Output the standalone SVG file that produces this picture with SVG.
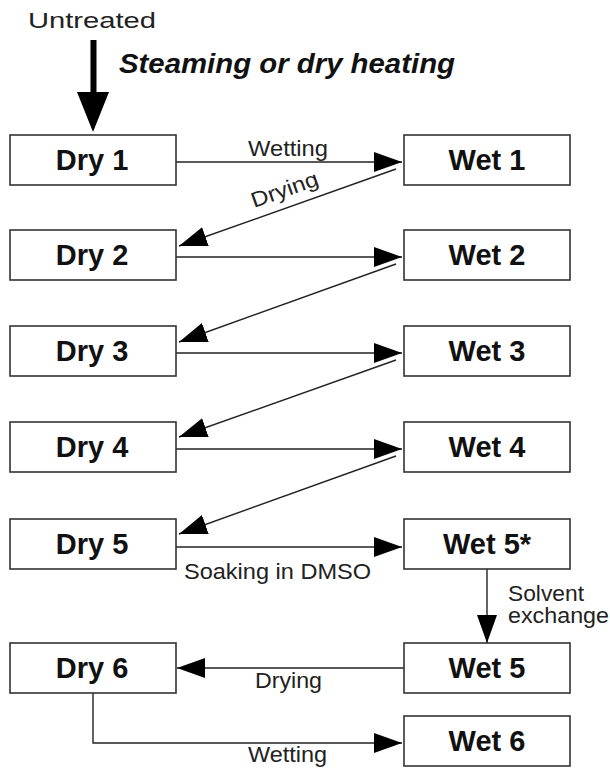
<svg xmlns="http://www.w3.org/2000/svg" width="610" height="770" viewBox="0 0 610 770">
<style>
.box{fill:#fff;stroke:#333;stroke-width:1.6}
.nl{font-family:"Liberation Sans",Arial,sans-serif;font-weight:bold;font-size:29px;fill:#111;text-anchor:middle}
.lbl{font-family:"Liberation Sans",Arial,sans-serif;font-size:21.5px;fill:#222}
.ln{stroke:#222;stroke-width:1.4;fill:none}
</style>
<defs>
<marker id="ah" markerUnits="userSpaceOnUse" markerWidth="30" markerHeight="22" refX="28" refY="10" orient="auto">
<path d="M0,0 L28,10 L0,20 Z" fill="#000"/>
</marker>
</defs>
<rect width="610" height="770" fill="#fff"/>
<g id="untreated">
<text class="lbl" x="28" y="28" font-size="26.5" textLength="128" lengthAdjust="spacingAndGlyphs">Untreated</text>
<rect x="90.5" y="40" width="6" height="54" fill="#000"/>
<path d="M77,92 L109,92 L93,132 Z" fill="#000"/>
<text x="119" y="73" font-family="'Liberation Sans',Arial,sans-serif" font-weight="bold" font-style="italic" font-size="27" fill="#111" textLength="336" lengthAdjust="spacingAndGlyphs">Steaming or dry heating</text>
</g>
<g id="connectors">
<line class="ln" x1="176" y1="162" x2="402" y2="162" marker-end="url(#ah)"/>
<line class="ln" x1="396" y1="169" x2="179" y2="246" marker-end="url(#ah)"/>
<line class="ln" x1="176" y1="257" x2="402" y2="257" marker-end="url(#ah)"/>
<line class="ln" x1="396" y1="264" x2="179" y2="342" marker-end="url(#ah)"/>
<line class="ln" x1="176" y1="353" x2="402" y2="353" marker-end="url(#ah)"/>
<line class="ln" x1="396" y1="360" x2="179" y2="437" marker-end="url(#ah)"/>
<line class="ln" x1="176" y1="449" x2="402" y2="449" marker-end="url(#ah)"/>
<line class="ln" x1="396" y1="456" x2="179" y2="534" marker-end="url(#ah)"/>
<line class="ln" x1="176" y1="547" x2="402" y2="547" marker-end="url(#ah)"/>
<line class="ln" x1="487" y1="569" x2="487" y2="643" marker-end="url(#ah)"/>
<line class="ln" x1="404" y1="668" x2="177" y2="668" marker-end="url(#ah)"/>
<polyline class="ln" points="93,693 93,743 402,743" marker-end="url(#ah)"/>
<text class="lbl" x="248" y="156" textLength="80" lengthAdjust="spacingAndGlyphs">Wetting</text>
<text class="lbl" x="254" y="208" textLength="70" lengthAdjust="spacingAndGlyphs" transform="rotate(-19.5 254 208)">Drying</text>
<text class="lbl" x="184" y="579" textLength="187" lengthAdjust="spacingAndGlyphs">Soaking in DMSO</text>
<text class="lbl" x="508" y="601" font-size="19.5" textLength="76" lengthAdjust="spacingAndGlyphs">Solvent</text>
<text class="lbl" x="508" y="623" font-size="19.5" textLength="101" lengthAdjust="spacingAndGlyphs">exchange</text>
<text class="lbl" x="255" y="688" textLength="67" lengthAdjust="spacingAndGlyphs">Drying</text>
<text class="lbl" x="248" y="762" textLength="79" lengthAdjust="spacingAndGlyphs">Wetting</text>
</g>
<g id="dry1"><rect class="box" x="10" y="135" width="166" height="50"/><text class="nl" x="92" y="170">Dry 1</text></g>
<g id="wet1"><rect class="box" x="404" y="135" width="166" height="50"/><text class="nl" x="487" y="170">Wet 1</text></g>
<g id="dry2"><rect class="box" x="10" y="230" width="166" height="50"/><text class="nl" x="92" y="265">Dry 2</text></g>
<g id="wet2"><rect class="box" x="404" y="230" width="166" height="50"/><text class="nl" x="487" y="265">Wet 2</text></g>
<g id="dry3"><rect class="box" x="10" y="326" width="166" height="50"/><text class="nl" x="92" y="361">Dry 3</text></g>
<g id="wet3"><rect class="box" x="404" y="326" width="166" height="50"/><text class="nl" x="487" y="361">Wet 3</text></g>
<g id="dry4"><rect class="box" x="10" y="422" width="166" height="50"/><text class="nl" x="92" y="457">Dry 4</text></g>
<g id="wet4"><rect class="box" x="404" y="422" width="166" height="50"/><text class="nl" x="487" y="457">Wet 4</text></g>
<g id="dry5"><rect class="box" x="10" y="519" width="166" height="50"/><text class="nl" x="92" y="554">Dry 5</text></g>
<g id="wet5star"><rect class="box" x="404" y="519" width="166" height="50"/><text class="nl" x="487" y="554">Wet 5*</text></g>
<g id="dry6"><rect class="box" x="10" y="643" width="166" height="50"/><text class="nl" x="92" y="678">Dry 6</text></g>
<g id="wet5"><rect class="box" x="404" y="643" width="166" height="50"/><text class="nl" x="487" y="678">Wet 5</text></g>
<g id="wet6"><rect class="box" x="404" y="716" width="166" height="50"/><text class="nl" x="487" y="751">Wet 6</text></g>
</svg>
